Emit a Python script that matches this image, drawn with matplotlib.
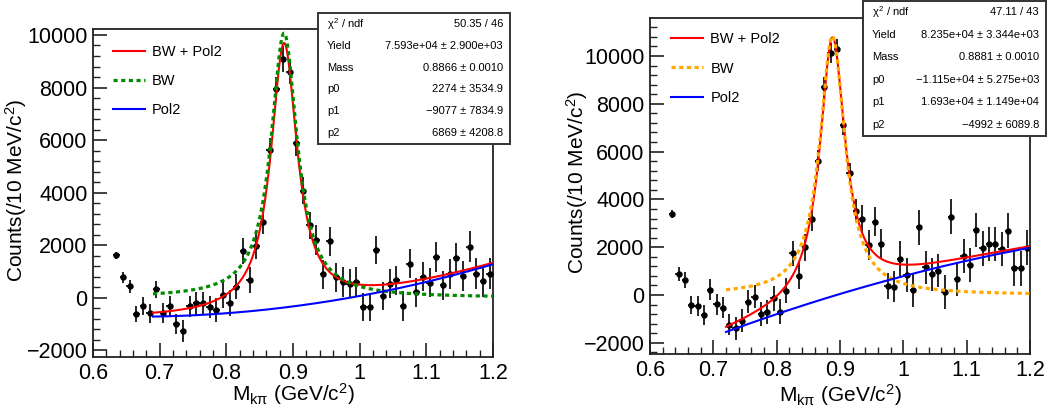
import numpy as np
import matplotlib
matplotlib.use("Agg")
import matplotlib.pyplot as plt
from matplotlib.ticker import MultipleLocator
from matplotlib.patches import Rectangle

plt.rcParams['font.family'] = ['Liberation Sans', 'DejaVu Sans']
plt.rcParams['mathtext.fontset'] = 'custom'
plt.rcParams['mathtext.rm'] = 'Liberation Sans'
plt.rcParams['mathtext.it'] = 'Liberation Sans'

# ---------------- data ----------------
mass_centers = np.round(np.arange(0.635, 1.2, 0.01), 3)   # 57 bin centres (10 MeV bins)
bin_half = 0.005

left_counts = [1620, 770, 440, -620, -320, -600, 320, -590, -320, -1010, -1270,
               -330, -215, -215, -370, -470, 120, -200, 420, 1780, 670, 1980,
               2890, 5615, 7930, 9075, 8610, 5890, 4080, 2750, 2190, 890, 2145,
               780, 600, 540, 600, -350, -350, 1805, 70, 535, 665, -310, 1300,
               205, 805, 570, 1555, 470, 920, 1520, 830, 1945, 920, 635, 920]
left_err = [130, 220, 250, 320, 350, 350, 330, 370, 380, 380, 410,
            400, 430, 430, 420, 450, 520, 480, 480, 490, 500, 500,
            480, 480, 460, 490, 480, 480, 520, 520, 560, 560, 540,
            550, 560, 560, 560, 540, 540, 540, 540, 540, 560, 560, 560,
            560, 560, 560, 560, 560, 570, 570, 580, 580, 580, 590, 580]

right_counts = [3400, 880, 630, -420, -460, -820, 210, -380, -540, -1240, -1390,
                -1070, -290, -70, -810, -700, -140, -700, 180, 1740, 795, 1990,
                3170, 5620, 8690, 10140, 10310, 7100, 5120, 3530, 3180, 2090, 3070,
                2130, 380, 350, 1520, 840, 210, 2830, 1160, 865, 1020, 125, 3280,
                655, 1630, 1255, 2720, 1950, 2130, 2130, 1910, 2690, 1115, 1115, 1980]
right_err = [170, 310, 330, 380, 400, 420, 440, 440, 440, 440, 480,
             480, 480, 480, 500, 500, 520, 520, 520, 530, 540, 560,
             500, 450, 450, 420, 420, 420, 420, 480, 600, 620, 620,
             640, 560, 650, 730, 700, 720, 730, 700, 700, 700, 720, 720,
             700, 700, 700, 720, 720, 700, 700, 710, 720, 720, 720, 730]

# fit results (from the stat boxes); BW width fixed in the fit
left_fit = dict(Yield=7.593e4, Mass=0.8866, p0=2274, p1=-9077, p2=6869,
                lo=0.69, width=0.0480)
right_fit = dict(Yield=8.235e4, Mass=0.8881, p0=-1.115e4, p1=1.693e4,
                 p2=-4992, lo=0.72, width=0.0484)
left_stats = [("$\\chi^{2}$ / ndf", "50.35 / 46"),
              ("Yield", "7.593e+04 \u00b1 2.900e+03"),
              ("Mass", "0.8866 \u00b1 0.0010"),
              ("p0", "2274 \u00b1 3534.9"),
              ("p1", "\u22129077 \u00b1 7834.9"),
              ("p2", "6869 \u00b1 4208.8")]
right_stats = [("$\\chi^{2}$ / ndf", "47.11 / 43"),
               ("Yield", "8.235e+04 \u00b1 3.344e+03"),
               ("Mass", "0.8881 \u00b1 0.0010"),
               ("p0", "\u22121.115e+04 \u00b1 5.275e+03"),
               ("p1", "1.693e+04 \u00b1 1.149e+04"),
               ("p2", "\u22124992 \u00b1 6089.8")]
legend_labels = ["BW + Pol2", "BW", "Pol2"]
x_label = "M$_{\\mathrm{k}\\pi}$ (GeV/c$^{2}$)"
y_label = "Counts(/10 MeV/c$^{2}$)"

W, H = 1064, 412
fig = plt.figure(figsize=(W / 100, H / 100), dpi=100)


def px_axes(x0, y0, x1, y1):
    return fig.add_axes([x0 / W, 1 - y1 / H, (x1 - x0) / W, (y1 - y0) / H])


def bw(x, Y, M, G):
    return Y * 0.01 * (G / (2 * np.pi)) / ((x - M) ** 2 + G ** 2 / 4)


def draw_panel(ax, counts, err, fit, bw_color, ylim, leg_pos, stats, box,
               ylab_x, xlab_y):
    ax.errorbar(mass_centers, counts, yerr=err, xerr=bin_half, fmt='o', color='black',
                ms=3.6, elinewidth=1.2, capsize=0, zorder=3)
    xs = np.linspace(fit['lo'], 1.2, 500)
    bwv = bw(xs, fit['Yield'], fit['Mass'], fit['width'])
    pol = fit['p0'] + fit['p1'] * xs + fit['p2'] * xs ** 2
    l1, = ax.plot(xs, bwv + pol, color='#ff0000', lw=1.5, zorder=4)
    l2, = ax.plot(xs, bwv, color=bw_color, lw=2.3, ls=(0, (1.3, 1.1)), zorder=4)
    l3, = ax.plot(xs, pol, color='#0000ff', lw=1.5, zorder=4)
    ax.set_xlim(0.6, 1.2)
    ax.set_ylim(*ylim)
    ax.xaxis.set_minor_locator(MultipleLocator(0.02))
    ax.yaxis.set_minor_locator(MultipleLocator(400))
    ax.set_xticks([0.6, 0.7, 0.8, 0.9, 1.0, 1.1, 1.2])
    ax.set_xticklabels(["0.6", "0.7", "0.8", "0.9", "1", "1.1", "1.2"])
    yt = [t for t in range(-2000, 12001, 2000) if ylim[0] <= t <= ylim[1]]
    ax.set_yticks(yt)
    ax.set_yticklabels([("\u2212%d" % -t) if t < 0 else str(t) for t in yt])
    ax.tick_params(axis='both', which='major', direction='in', length=10, width=1.2,
                   labelsize=15.5, pad=4, top=False, right=False, color='#222222')
    ax.tick_params(axis='both', which='minor', direction='in', length=5, width=1.0,
                   top=False, right=False, color='#222222')
    for s in ax.spines.values():
        s.set_linewidth(1.3)
        s.set_color('#222222')
    ax.set_xlabel(x_label, fontsize=15)
    ax.set_ylabel(y_label, fontsize=15)
    ax.xaxis.set_label_coords(0.5, xlab_y)
    ax.yaxis.set_label_coords(ylab_x, 0.51)
    ax.legend([l1, l2, l3], legend_labels, loc='upper left',
              bbox_to_anchor=leg_pos, frameon=False, fontsize=10.5,
              handlelength=2.2, handletextpad=0.5, labelspacing=1.05,
              borderaxespad=0)
    # stat box
    bx0, by0, bx1, by1 = box
    fig.patches.append(Rectangle((bx0 / W, 1 - by1 / H), (bx1 - bx0) / W, (by1 - by0) / H,
                                 transform=fig.transFigure, facecolor='white',
                                 edgecolor='#333333', lw=1.4, zorder=10))
    n = len(stats)
    rowh = (by1 - by0) / n
    for i, (k, v) in enumerate(stats):
        yc = by0 + rowh * (i + 0.5)
        fig.text((bx0 + 9) / W, 1 - yc / H, k, ha='left', va='center', fontsize=8,
                 zorder=11)
        fig.text((bx1 - 7) / W, 1 - yc / H, v, ha='right', va='center', fontsize=8,
                 zorder=11)


axL = px_axes(93, 29, 493, 357)
axR = px_axes(650, 18, 1030, 354)
draw_panel(axL, left_counts, left_err, left_fit, '#008a00', (-2257, 10228),
           (0.035, 0.97), left_stats, (318, 13, 510, 144), -0.16, -0.075)
draw_panel(axR, right_counts, right_err, right_fit, '#ffaa00', (-2469, 11590),
           (0.04, 0.975), right_stats, (863, 1, 1046, 136), -0.158, -0.085)

fig.savefig("out.png", dpi=100)
